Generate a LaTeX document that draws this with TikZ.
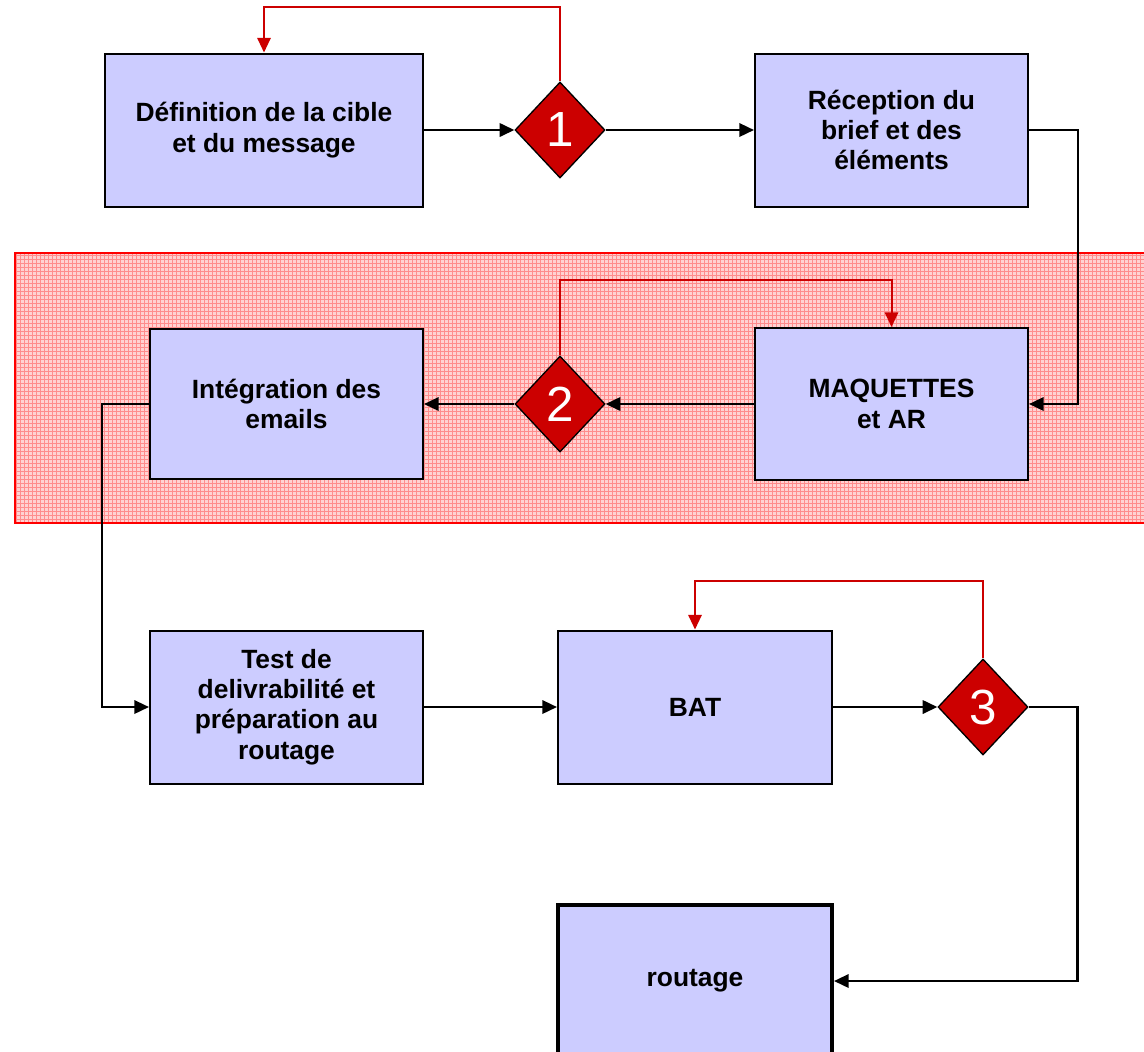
\documentclass[tikz,border=0pt]{standalone}
\usepackage{fontspec}
\setmainfont{Liberation Sans}
\usetikzlibrary{arrows.meta, calc, patterns, positioning, shapes.geometric}
\usepackage{xcolor}

\definecolor{boxblue}{RGB}{204,204,255}
\definecolor{decred}{RGB}{204,0,0}

\tikzset{
  etape/.style={draw=black, line width=1.5pt, fill=boxblue, inner sep=0pt, align=center,
    font=\fontsize{19.8}{22.8}\selectfont\bfseries},
  decision/.style={diamond, draw=black, line width=1pt, fill=decred, inner sep=0pt,
    minimum width=67.5pt, minimum height=72pt, text=white, font=\fontsize{37}{37}\selectfont},
  flux/.style={->, line width=1.8pt, color=black},
  retour/.style={->, line width=1.5pt, color=decred},
}

\begin{document}
\begin{tikzpicture}[line join=miter, >={Triangle[length=11pt,width=10pt]}, x=0.75pt, y=-0.75pt]
\useasboundingbox (0,0) rectangle (1144,1051);

% Band behind the second row
\fill [red!18] (15,253) rectangle (1150,523);
\fill [pattern=grid, pattern color=red!45] (15,253) rectangle (1150,523);
\draw [line width=1.5pt, color=red] (1150,253) -- (15,253) -- (15,523) -- (1150,523);

% Steps
\node [etape, minimum width=238.5pt, minimum height=114.75pt] (def) at (264,130) {D\'efinition de la cible\\et du message};
\node [etape, minimum width=204.75pt, minimum height=114.75pt] (recep) at (891.5,130) {R\'eception du\\brief et des\\\'el\'ements};
\node [etape, minimum width=204.75pt, minimum height=114pt] (maq) at (891.5,404) {MAQUETTES\\et AR};
\node [etape, minimum width=204.75pt, minimum height=112.5pt] (integ) at (286.5,404) {Int\'egration des\\emails};
\node [etape, minimum width=204.75pt, minimum height=114.75pt] (test) at (286.5,707) {Test de\\delivrabilit\'e et\\pr\'eparation au\\routage};
\node [etape, minimum width=205.5pt, minimum height=114.75pt] (bat) at (695,707) {BAT};
\node [etape, line width=3pt, minimum width=205.5pt, minimum height=114.75pt] (rout) at (695,981) {routage};

% Decisions
\node [decision] (d1) at (560,130) {1};
\node [decision] (d2) at (560,404) {2};
\node [decision] (d3) at (983,707) {3};

% Main flow
\draw [flux] (def.east) -- (d1.west);
\draw [flux] (d1.east) -- (recep.west);
\draw [flux] (recep.east) -- ++(49,0) |- (maq.east);
\draw [flux] (maq.west) -- (d2.east);
\draw [flux] (d2.west) -- (integ.east);
\draw [flux] (integ.west) -- ++(-47,0) |- (test.west);
\draw [flux] (test.east) -- (bat.west);
\draw [flux] (bat.east) -- (d3.west);
\draw [flux] (d3.east) -- ++(49,0) |- (rout.east);

% Loops back
\draw [retour] (d1.north) -- ++(0,-74) -| (def.north);
\draw [retour] (d2.north) -- ++(0,-75) -| (maq.north);
\draw [retour] (d3.north) -- ++(0,-77) -| (bat.north);
\end{tikzpicture}
\end{document}
